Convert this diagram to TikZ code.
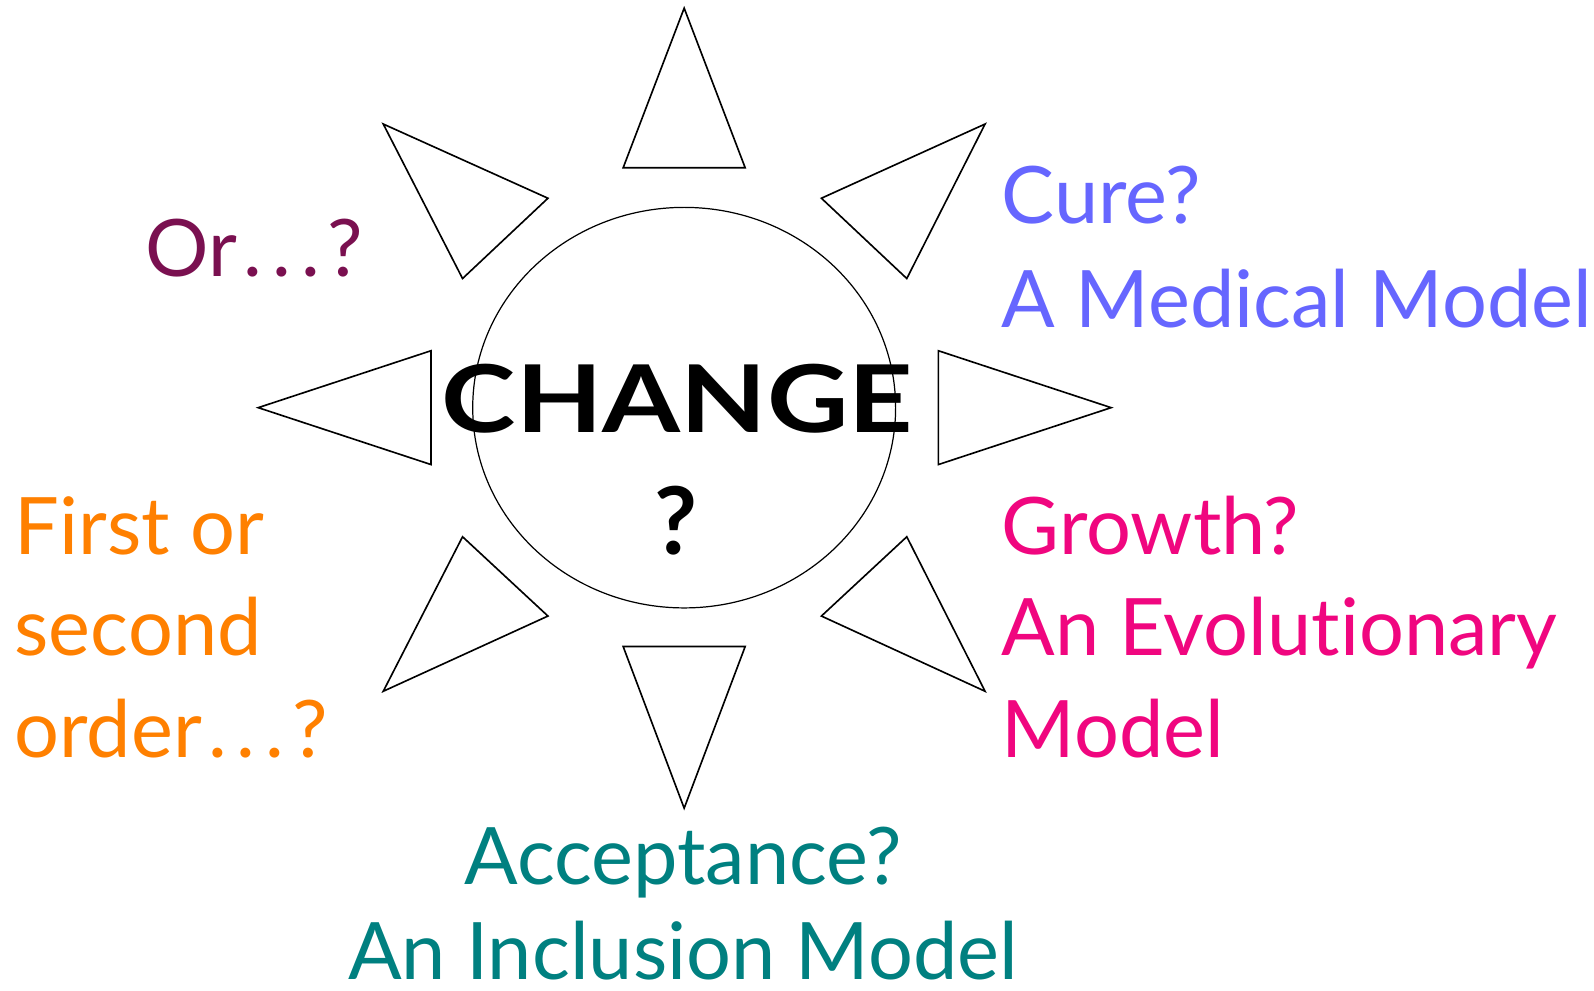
\documentclass[tikz,border=0pt]{standalone}
\usepackage{fontspec}
\setmainfont{Lato}[Ligatures=NoCommon]
\definecolor{orcol}{HTML}{7A1050}
\definecolor{curecol}{HTML}{6666FF}
\definecolor{growcol}{HTML}{F0067F}
\definecolor{firstcol}{HTML}{FF8000}
\definecolor{acccol}{HTML}{008080}
\newcommand{\dotsq}{\kern3pt.\kern5pt.\kern5pt.\kern4pt?}
\begin{document}
\begin{tikzpicture}[x=0.5pt,y=-0.5pt,
  ray/.style={draw=black, line width=0.8pt, fill=white, line join=miter},
  lbl/.style={font=\fontsize{39}{39}\selectfont, inner sep=0pt, anchor=base west},
  big/.style={font=\fontsize{46}{46}\selectfont\bfseries, inner sep=0pt, anchor=base}]
\useasboundingbox (0,0) rectangle (1568,974);
\fill[white] (0,0) rectangle (1568,974);
% centre circle
\draw[line width=0.6pt] (673,401) ellipse [x radius=104pt, y radius=98.5pt];
% rays
\draw[ray] (673,8) -- (733,165) -- (613,165) -- cycle;
\draw[ray] (377,122) -- (539,195) -- (455,274) -- cycle;
\draw[ray] (969,122) -- (808,195) -- (892,274) -- cycle;
\draw[ray] (254,401) -- (424,345) -- (424,457) -- cycle;
\draw[ray] (1093,401) -- (923,345) -- (923,457) -- cycle;
\draw[ray] (377,680) -- (539,606) -- (455,528) -- cycle;
\draw[ray] (969,680) -- (808,606) -- (892,528) -- cycle;
\draw[ray] (673,795) -- (733,636) -- (613,636) -- cycle;
% centre text
\node[big] (change) at (666.5,425) {\scalebox{1.2}[1]{CHANGE}};
\node[big] (qm) at (665,545) {?};
% labels
\node[lbl, text=orcol] (or) at (143,272) {Or\dotsq};
\node[lbl, text=curecol] (cure) at (985,220) {Cure?};
\node[lbl, text=curecol] (medical) at (985,322) {A Medical Model};
\node[lbl, text=growcol] (growth) at (985,545) {Growth?};
\node[lbl, text=growcol] (evol) at (985,645) {An Evolutionary};
\node[lbl, text=growcol] (evolm) at (985,745) {Model};
\node[lbl, text=firstcol] (first) at (14,545) {First or};
\node[lbl, text=firstcol] (second) at (14,645) {second};
\node[lbl, text=firstcol] (order) at (14,745) {order\dotsq};
\node[lbl, text=acccol, anchor=base] (accept) at (672,870) {Acceptance?};
\node[lbl, text=acccol, anchor=base] (incl) at (672,964) {An Inclusion Model};
\end{tikzpicture}
\end{document}
